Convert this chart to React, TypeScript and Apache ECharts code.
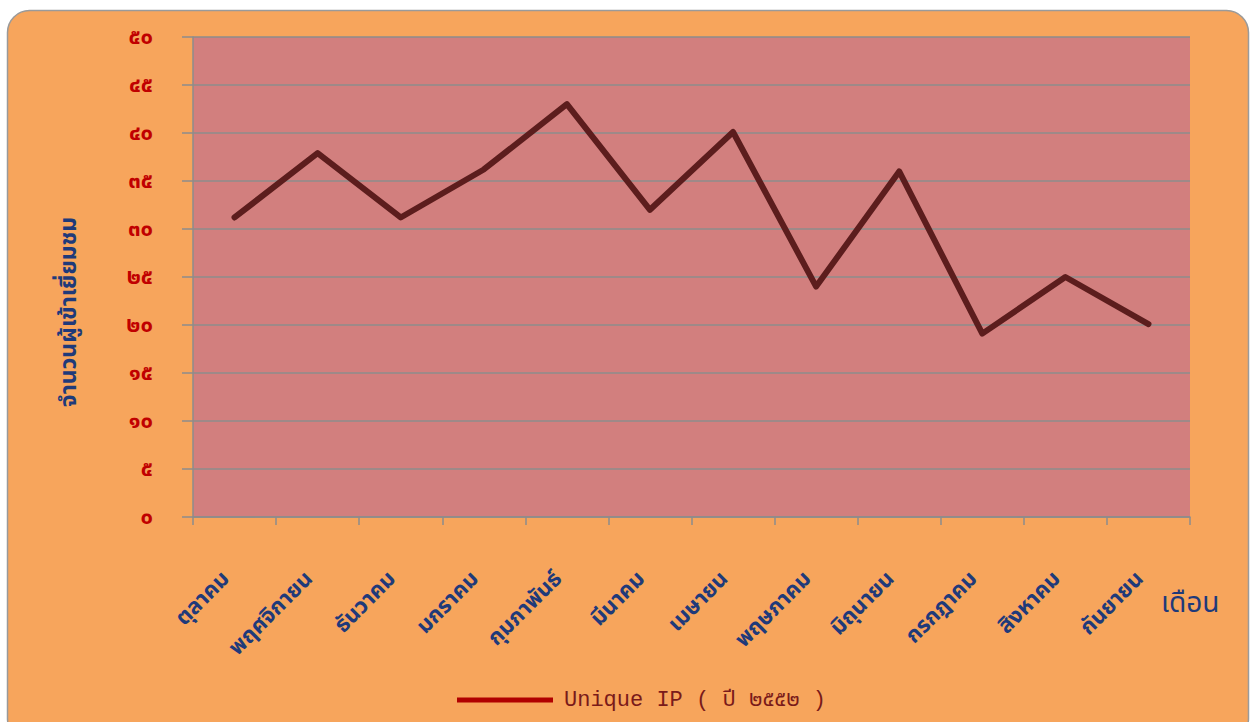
import React, { useEffect, useRef } from "react";
import * as echarts from "echarts";

const months = [
  "ตุลาคม",
  "พฤศจิกายน",
  "ธันวาคม",
  "มกราคม",
  "กุมภาพันธ์",
  "มีนาคม",
  "เมษายน",
  "พฤษภาคม",
  "มิถุนายน",
  "กรกฎาคม",
  "สิงหาคม",
  "กันยายน",
];
const uniqueIP = [31.2, 37.9, 31.2, 36.2, 43, 32, 40.1, 24, 36, 19.1, 25, 20.1];
const yTickLabels = ["๐", "๕", "๑๐", "๑๕", "๒๐", "๒๕", "๓๐", "๓๕", "๔๐", "๔๕", "๕๐"];
const seriesName = "Unique IP ( ปี ๒๕๕๒ )";
const yAxisTitle = "จำนวนผู้เข้าเยี่ยมชม";
const xAxisTitle = "เดือน";

const THAI_FONT = "'Noto Sans Thai', Tahoma, 'Noto Sans', sans-serif";

export default function App() {
  const ref = useRef<HTMLDivElement>(null);
  useEffect(() => {
    if (!ref.current) return;
    const chart = echarts.init(ref.current, undefined, { renderer: "svg" });
    chart.setOption({
      animation: false,
      backgroundColor: "#ffffff",
      graphic: [
        {
          type: "rect",
          z: -10,
          silent: true,
          shape: { x: 7.5, y: 10.5, width: 1241, height: 730, r: 22 },
          style: { fill: "#F7A55C", stroke: "#9A9A9A", lineWidth: 1.5 },
        },
        {
          type: "text",
          x: 69,
          y: 312,
          rotation: Math.PI / 2,
          style: {
            text: yAxisTitle,
            fill: "#1F3A7A",
            font: `bold 23px ${THAI_FONT}`,
            align: "center",
            verticalAlign: "middle",
          },
        },
        {
          type: "text",
          x: 1161,
          y: 603,
          style: {
            text: xAxisTitle,
            fill: "#1F3A7A",
            font: `28px ${THAI_FONT}`,
            align: "left",
            verticalAlign: "middle",
          },
        },
      ],
      grid: {
        left: 193,
        top: 37,
        right: 65,
        bottom: 205,
        show: true,
        backgroundColor: "#D27F7E",
        borderWidth: 0,
      },
      legend: {
        show: true,
        left: 452,
        top: 684,
        icon: "rect",
        itemWidth: 96,
        itemHeight: 5,
        itemGap: 10,
        itemStyle: { color: "#B00000" },
        textStyle: {
          color: "#7A1A1A",
          fontSize: 22,
          fontFamily: "'Liberation Mono', 'Noto Sans Thai', monospace",
          padding: [0, 0, 0, 6],
        },
        data: [seriesName],
      },
      xAxis: {
        type: "category",
        data: months,
        boundaryGap: true,
        axisLine: { show: true, lineStyle: { color: "#8C8C8C", width: 1.5 } },
        axisTick: { show: true, length: 8, lineStyle: { color: "#8C8C8C", width: 1.5 } },
        axisLabel: {
          rotate: 45,
          margin: 50,
          padding: [0, 12, 0, 0],
          color: "#1F3A7A",
          fontWeight: "bold",
          fontSize: 22,
          fontFamily: THAI_FONT,
          interval: 0,
        },
        splitLine: { show: false },
      },
      yAxis: {
        type: "value",
        min: 0,
        max: 50,
        interval: 5,
        axisLine: { show: true, lineStyle: { color: "#8C8C8C", width: 1.5 } },
        axisTick: { show: true, length: 11, lineStyle: { color: "#8C8C8C", width: 1.5 } },
        axisLabel: {
          margin: 40,
          color: "#C00000",
          fontWeight: "bold",
          fontSize: 22,
          fontFamily: THAI_FONT,
          formatter: (v: number) => yTickLabels[Math.round(v / 5)] ?? "",
        },
        splitLine: { show: true, lineStyle: { color: "#8C8C8C", width: 1.5 } },
      },
      series: [
        {
          name: seriesName,
          type: "line",
          data: uniqueIP,
          showSymbol: false,
          symbol: "none",
          lineStyle: { color: "#5C1D1D", width: 6, cap: "round", join: "round" },
          itemStyle: { color: "#B00000" },
        },
      ],
    });
    return () => chart.dispose();
  }, []);
  return (
    <div
      ref={ref}
      style={{ position: "fixed", left: 0, top: 0, width: 1255, height: 722 }}
    />
  );
}
